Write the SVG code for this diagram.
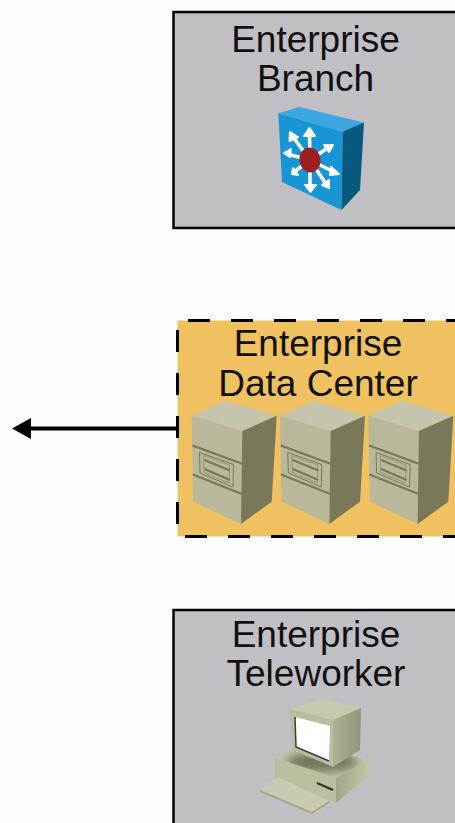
<svg xmlns="http://www.w3.org/2000/svg" width="455" height="823" viewBox="0 0 455 823">
<defs>
<style>
text{font-family:"Liberation Sans",Arial,sans-serif;font-size:37px;fill:#111;text-anchor:middle}
.box{fill:#c0bfc4;stroke:#000;stroke-width:2.5}
.wl{fill:#fff;stroke:#fff;stroke-width:2;stroke-linejoin:round}
.ar{fill:none;stroke:#fff;stroke-width:3.500}
.dash{fill:none;stroke:#000;stroke-width:3;stroke-dasharray:22 21}
</style>
<filter id="soft" x="-30%" y="-60%" width="160%" height="220%"><feGaussianBlur stdDeviation="5"/></filter>
<linearGradient id="pcSide" x1="0" y1="0" x2="1" y2="0"><stop offset="0" stop-color="#b0b092"/><stop offset="1" stop-color="#94947a"/></linearGradient>
<linearGradient id="pcBase" x1="0" y1="0" x2="1" y2="0"><stop offset="0" stop-color="#a4a486"/><stop offset="1" stop-color="#c4c4a6"/></linearGradient>
<clipPath id="baseTop"><path d="M275 758 306 745 369 760 336 778Z"/></clipPath>
<g id="srv">
<path d="M191.700 415.700 225 401 276.700 415.700 242.300 431Z" fill="#c5c5ae"/>
<path d="M191.700 415.700 242.300 431 241 524 193.300 501.700Z" fill="#b9b89b"/>
<path d="M242.300 431 276.700 415.700 271.700 501.700 241 524Z" fill="#79795a"/>
<path d="M192.500 445.500 243 464M192.800 474.500 242 494" fill="none" stroke="#77775a" stroke-width="2"/>
<path d="M199.500 452.500 233.500 464.500 233 487 200 473Z" fill="none" stroke="#77775a" stroke-width="1"/>
<path d="M203.500 455.500 229.500 465 229 483 204 472.500Z" fill="none" stroke="#8a8a6c" stroke-width=".8"/>
<path d="M204.500 460 230 470.500M204.500 469 230 480" fill="none" stroke="#77775a" stroke-width="2"/>
</g>
</defs>
<rect width="455" height="823" fill="#fefefe"/>
<g id="connectors">
<path d="M178 428.500H26" fill="none" stroke="#000" stroke-width="4"/>
<path d="M12 428.500 31 418V439Z" fill="#000"/>
</g>
<g id="enterprise-branch">
<path class="box" d="M457 12H173.500V228H457"/>
<text x="315.500" y="52">Enterprise</text>
<text x="315.500" y="91">Branch</text>
<path d="M278.300 113.300 299.500 107 364 122.500 342.700 131.700Z" fill="#3ba6df"/>
<path d="M278.300 113.300 342.700 131.700 341.500 210 282 182Z" fill="#1796d6"/>
<path d="M342.700 131.700 364 122.500 360 190 341.500 210Z" fill="#07597f"/>
<g>
<path class="ar" d="M310 160 309.500 134M310 160 293 137M310 160 329 147M310 160 287 154M310 160 334 172M310 160 294 172M310 160 310 186M310 160 326 184"/>
<path class="wl" d="M309.500 128 304 136H315ZM290 132 289.500 141 298 137ZM333 145 324 145 329 152ZM284 153 291 149 290 157ZM339 174 331 167 330 175ZM292 174 298 175 293 168ZM310.500 192 305 185H316ZM329 188 329 180 322 185Z"/>
<ellipse cx="310" cy="160" rx="10.500" ry="12.500" transform="rotate(-8 310 160)" fill="#9c1f24"/>
</g>
</g>
<g id="enterprise-data-center">
<rect x="177.500" y="320.500" width="280" height="216" fill="#efc160"/>
<path class="dash" d="M188 320.500H457"/>
<path class="dash" d="M177.500 330V528"/>
<path class="dash" d="M185 536.500H457"/>
<text x="318" y="356">Enterprise</text>
<text x="318" y="396">Data Center</text>
<use href="#srv"/>
<use href="#srv" x="88.300"/>
<use href="#srv" x="176.600"/>
</g>
<g id="enterprise-teleworker">
<path class="box" d="M457 610H173.500V825H457"/>
<text x="316" y="647">Enterprise</text>
<text x="316" y="686">Teleworker</text>
<path d="M275 758 306 745 369 760 336 778Z" fill="#c4c4a8"/>
<g clip-path="url(#baseTop)"><ellipse cx="322" cy="762" rx="36" ry="10" fill="#75755a" filter="url(#soft)"/></g>
<path d="M275 758 336 778V803L275 778Z" fill="#bdbd9f"/>
<path d="M336 778 369 760V775L336 803Z" fill="url(#pcBase)"/>
<path d="M260 790 278 777 329 801 312 812Z" fill="#cacab0"/>
<path d="M312 812 329 801V803L312 814 260 792V790Z" fill="#a3a385"/>
<path d="M317 783 333 790" stroke="#33332a" stroke-width="2" fill="none"/>
<path d="M289 709 322 699 361 708 333 720Z" fill="#c8c8ac"/>
<path d="M289 709 333 720 333 767 293 750Z" fill="#bcbca0"/>
<path d="M333 720 361 708 360 750 333 767Z" fill="url(#pcSide)"/>
<path d="M295 717 330 726 329 761 296 747Z" fill="#fff"/>
<path d="M295 717 296 747 329 761" stroke="#3d3d35" stroke-width="1.500" fill="none"/>
</g>
</svg>
